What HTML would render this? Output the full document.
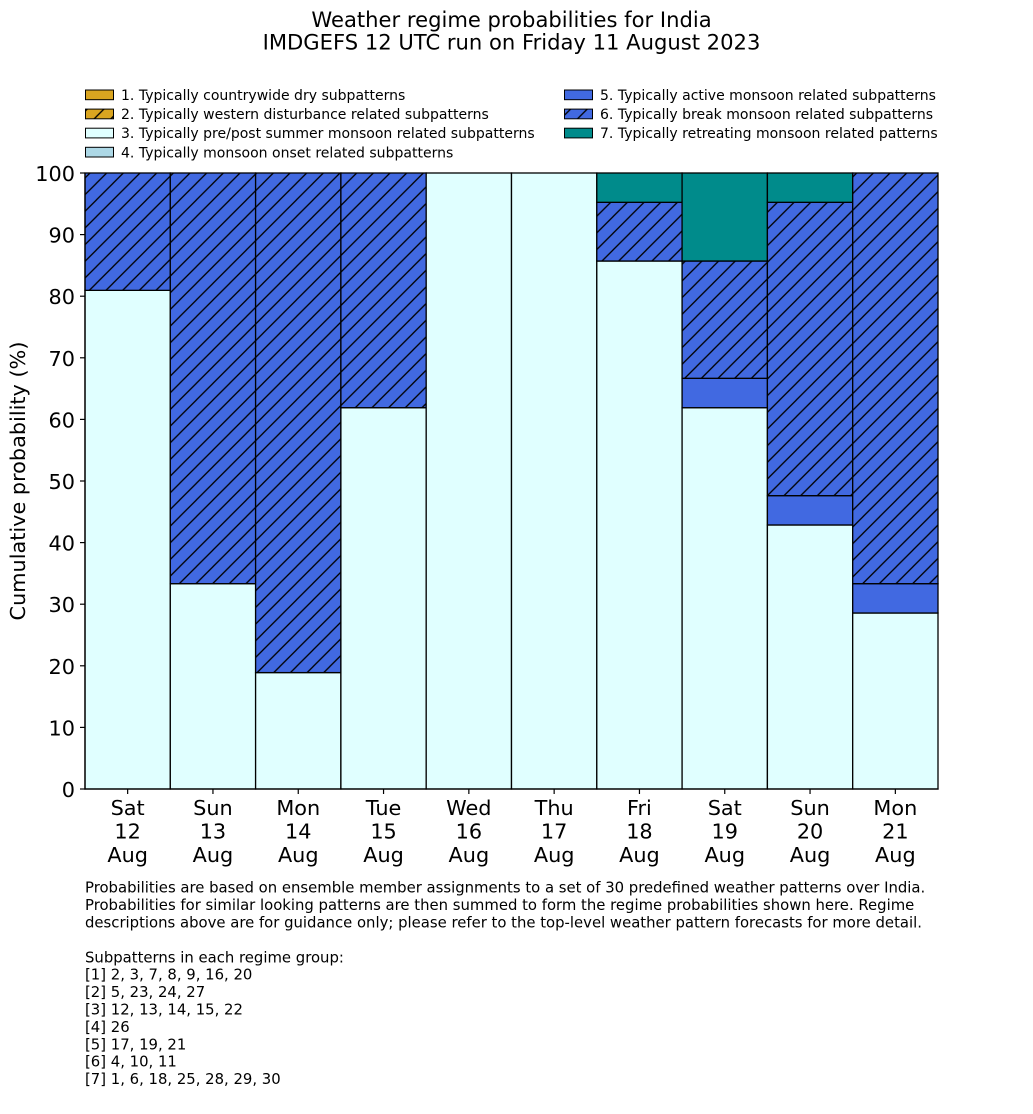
<!DOCTYPE html>
<html>
<head>
<meta charset="utf-8">
<style>
  html, body { margin:0; padding:0; background:#ffffff; }
  svg { display:block; }
  text { font-family: "DejaVu Sans", "Liberation Sans", sans-serif; fill:#000; }
</style>
</head>
<body>
<svg width="1033" height="1114" viewBox="0 0 1033 1114" xmlns="http://www.w3.org/2000/svg">
  <defs>
    <pattern id="h" patternUnits="userSpaceOnUse" width="16.667" height="16.667" patternTransform="translate(-3.667,0)">
      <path d="M0,16.667 L16.667,0 M-2,2 L2,-2 M14.667,18.667 L18.667,14.667" stroke="#000" stroke-width="1.3" fill="none"/>
    </pattern>
  </defs>

  <!-- Title -->
  <text x="511.5" y="27" font-size="21.1" text-anchor="middle">Weather regime probabilities for India</text>
  <text x="511.5" y="49.5" font-size="21.1" text-anchor="middle">IMDGEFS 12 UTC run on Friday 11 August 2023</text>

  <!-- Legend column 1 -->
  <g font-size="14.03">
    <rect x="85.5" y="90" width="28" height="9.7" fill="#DAA520" stroke="#000" stroke-width="1"/>
    <text x="121" y="100">1. Typically countrywide dry subpatterns</text>
    <rect x="85.5" y="109.1" width="28" height="9.7" fill="#DAA520"/>
    <rect x="85.5" y="109.1" width="28" height="9.7" fill="url(#h)" stroke="#000" stroke-width="1"/>
    <text x="121" y="119.1">2. Typically western disturbance related subpatterns</text>
    <rect x="85.5" y="128.2" width="28" height="9.7" fill="#E0FFFF" stroke="#000" stroke-width="1"/>
    <text x="121" y="138.2">3. Typically pre/post summer monsoon related subpatterns</text>
    <rect x="85.5" y="147.3" width="28" height="9.7" fill="#ADD8E6" stroke="#000" stroke-width="1"/>
    <text x="121" y="157.3">4. Typically monsoon onset related subpatterns</text>

    <!-- Legend column 2 -->
    <rect x="564.5" y="90" width="28" height="9.7" fill="#4169E1" stroke="#000" stroke-width="1"/>
    <text x="600" y="100">5. Typically active monsoon related subpatterns</text>
    <rect x="564.5" y="109.1" width="28" height="9.7" fill="#4169E1"/>
    <rect x="564.5" y="109.1" width="28" height="9.7" fill="url(#h)" stroke="#000" stroke-width="1"/>
    <text x="600" y="119.1">6. Typically break monsoon related subpatterns</text>
    <rect x="564.5" y="128.2" width="28" height="9.7" fill="#008B8B" stroke="#000" stroke-width="1"/>
    <text x="600" y="138.2">7. Typically retreating monsoon related patterns</text>
  </g>

  <!-- Bars -->
  <g stroke="#000" stroke-width="1.3">
    <!-- 0 Sat 12 -->
    <rect x="85" y="290.35" width="85.3" height="498.65" fill="#E0FFFF"/>
    <rect x="85" y="173" width="85.3" height="117.35" fill="#4169E1" stroke="none"/>
    <rect x="85" y="173" width="85.3" height="117.35" fill="url(#h)"/>
    <!-- 1 Sun 13 -->
    <rect x="170.3" y="583.67" width="85.3" height="205.33" fill="#E0FFFF"/>
    <rect x="170.3" y="173" width="85.3" height="410.67" fill="#4169E1" stroke="none"/>
    <rect x="170.3" y="173" width="85.3" height="410.67" fill="url(#h)"/>
    <!-- 2 Mon 14 -->
    <rect x="255.6" y="672.6" width="85.3" height="116.4" fill="#E0FFFF"/>
    <rect x="255.6" y="173" width="85.3" height="499.6" fill="#4169E1" stroke="none"/>
    <rect x="255.6" y="173" width="85.3" height="499.6" fill="url(#h)"/>
    <!-- 3 Tue 15 -->
    <rect x="340.9" y="407.7" width="85.3" height="381.3" fill="#E0FFFF"/>
    <rect x="340.9" y="173" width="85.3" height="234.7" fill="#4169E1" stroke="none"/>
    <rect x="340.9" y="173" width="85.3" height="234.7" fill="url(#h)"/>
    <!-- 4 Wed 16 -->
    <rect x="426.2" y="173" width="85.3" height="616" fill="#E0FFFF"/>
    <!-- 5 Thu 17 -->
    <rect x="511.5" y="173" width="85.3" height="616" fill="#E0FFFF"/>
    <!-- 6 Fri 18 -->
    <rect x="596.8" y="261.03" width="85.3" height="527.97" fill="#E0FFFF"/>
    <rect x="596.8" y="202.32" width="85.3" height="58.71" fill="#4169E1" stroke="none"/>
    <rect x="596.8" y="202.32" width="85.3" height="58.71" fill="url(#h)"/>
    <rect x="596.8" y="173" width="85.3" height="29.32" fill="#008B8B"/>
    <!-- 7 Sat 19 -->
    <rect x="682.1" y="407.7" width="85.3" height="381.3" fill="#E0FFFF"/>
    <rect x="682.1" y="378.31" width="85.3" height="29.39" fill="#4169E1"/>
    <rect x="682.1" y="261.03" width="85.3" height="117.28" fill="#4169E1" stroke="none"/>
    <rect x="682.1" y="261.03" width="85.3" height="117.28" fill="url(#h)"/>
    <rect x="682.1" y="173" width="85.3" height="88.03" fill="#008B8B"/>
    <!-- 8 Sun 20 -->
    <rect x="767.4" y="524.98" width="85.3" height="264.02" fill="#E0FFFF"/>
    <rect x="767.4" y="495.66" width="85.3" height="29.32" fill="#4169E1"/>
    <rect x="767.4" y="202.32" width="85.3" height="293.34" fill="#4169E1" stroke="none"/>
    <rect x="767.4" y="202.32" width="85.3" height="293.34" fill="url(#h)"/>
    <rect x="767.4" y="173" width="85.3" height="29.32" fill="#008B8B"/>
    <!-- 9 Mon 21 -->
    <rect x="852.7" y="613.01" width="85.3" height="175.99" fill="#E0FFFF"/>
    <rect x="852.7" y="583.67" width="85.3" height="29.34" fill="#4169E1"/>
    <rect x="852.7" y="173" width="85.3" height="410.67" fill="#4169E1" stroke="none"/>
    <rect x="852.7" y="173" width="85.3" height="410.67" fill="url(#h)"/>
  </g>

  <!-- Axes spines -->
  <g stroke="#000" stroke-width="1.3" fill="none">
    <line x1="85" y1="173" x2="85" y2="789.6"/>
    <line x1="84.4" y1="789" x2="938.6" y2="789"/>
  </g>

  <!-- Y ticks -->
  <g stroke="#000" stroke-width="1.2">
    <line x1="80" y1="789" x2="85" y2="789"/>
    <line x1="80" y1="727.4" x2="85" y2="727.4"/>
    <line x1="80" y1="665.8" x2="85" y2="665.8"/>
    <line x1="80" y1="604.2" x2="85" y2="604.2"/>
    <line x1="80" y1="542.6" x2="85" y2="542.6"/>
    <line x1="80" y1="481" x2="85" y2="481"/>
    <line x1="80" y1="419.4" x2="85" y2="419.4"/>
    <line x1="80" y1="357.8" x2="85" y2="357.8"/>
    <line x1="80" y1="296.2" x2="85" y2="296.2"/>
    <line x1="80" y1="234.6" x2="85" y2="234.6"/>
    <line x1="80" y1="173" x2="85" y2="173"/>
  </g>
  <g font-size="20.8" text-anchor="end">
    <text x="75" y="797">0</text>
    <text x="75" y="735.4">10</text>
    <text x="75" y="673.8">20</text>
    <text x="75" y="612.2">30</text>
    <text x="75" y="550.6">40</text>
    <text x="75" y="489">50</text>
    <text x="75" y="427.4">60</text>
    <text x="75" y="365.8">70</text>
    <text x="75" y="304.2">80</text>
    <text x="75" y="242.6">90</text>
    <text x="75" y="181">100</text>
  </g>

  <!-- Y label -->
  <text x="0" y="0" font-size="20.8" text-anchor="middle" transform="translate(25,481) rotate(-90)">Cumulative probability (%)</text>

  <!-- X ticks -->
  <g stroke="#000" stroke-width="1.2">
    <line x1="127.65" y1="789" x2="127.65" y2="794"/>
    <line x1="212.95" y1="789" x2="212.95" y2="794"/>
    <line x1="298.25" y1="789" x2="298.25" y2="794"/>
    <line x1="383.55" y1="789" x2="383.55" y2="794"/>
    <line x1="468.85" y1="789" x2="468.85" y2="794"/>
    <line x1="554.15" y1="789" x2="554.15" y2="794"/>
    <line x1="639.45" y1="789" x2="639.45" y2="794"/>
    <line x1="724.75" y1="789" x2="724.75" y2="794"/>
    <line x1="810.05" y1="789" x2="810.05" y2="794"/>
    <line x1="895.35" y1="789" x2="895.35" y2="794"/>
  </g>
  <g font-size="20.8" text-anchor="middle">
    <text x="127.65" y="815">Sat</text><text x="127.65" y="838.5">12</text><text x="127.65" y="862">Aug</text>
    <text x="212.95" y="815">Sun</text><text x="212.95" y="838.5">13</text><text x="212.95" y="862">Aug</text>
    <text x="298.25" y="815">Mon</text><text x="298.25" y="838.5">14</text><text x="298.25" y="862">Aug</text>
    <text x="383.55" y="815">Tue</text><text x="383.55" y="838.5">15</text><text x="383.55" y="862">Aug</text>
    <text x="468.85" y="815">Wed</text><text x="468.85" y="838.5">16</text><text x="468.85" y="862">Aug</text>
    <text x="554.15" y="815">Thu</text><text x="554.15" y="838.5">17</text><text x="554.15" y="862">Aug</text>
    <text x="639.45" y="815">Fri</text><text x="639.45" y="838.5">18</text><text x="639.45" y="862">Aug</text>
    <text x="724.75" y="815">Sat</text><text x="724.75" y="838.5">19</text><text x="724.75" y="862">Aug</text>
    <text x="810.05" y="815">Sun</text><text x="810.05" y="838.5">20</text><text x="810.05" y="862">Aug</text>
    <text x="895.35" y="815">Mon</text><text x="895.35" y="838.5">21</text><text x="895.35" y="862">Aug</text>
  </g>

  <!-- Footer text -->
  <g font-size="14.85">
    <text x="85" y="892.7">Probabilities are based on ensemble member assignments to a set of 30 predefined weather patterns over India.</text>
    <text x="85" y="910.1">Probabilities for similar looking patterns are then summed to form the regime probabilities shown here. Regime</text>
    <text x="85" y="927.5">descriptions above are for guidance only; please refer to the top-level weather pattern forecasts for more detail.</text>
    <text x="85" y="962.3">Subpatterns in each regime group:</text>
    <text x="85" y="979.7">[1] 2, 3, 7, 8, 9, 16, 20</text>
    <text x="85" y="997.1">[2] 5, 23, 24, 27</text>
    <text x="85" y="1014.5">[3] 12, 13, 14, 15, 22</text>
    <text x="85" y="1031.9">[4] 26</text>
    <text x="85" y="1049.3">[5] 17, 19, 21</text>
    <text x="85" y="1066.7">[6] 4, 10, 11</text>
    <text x="85" y="1084.1">[7] 1, 6, 18, 25, 28, 29, 30</text>
  </g>
</svg>
</body>
</html>
